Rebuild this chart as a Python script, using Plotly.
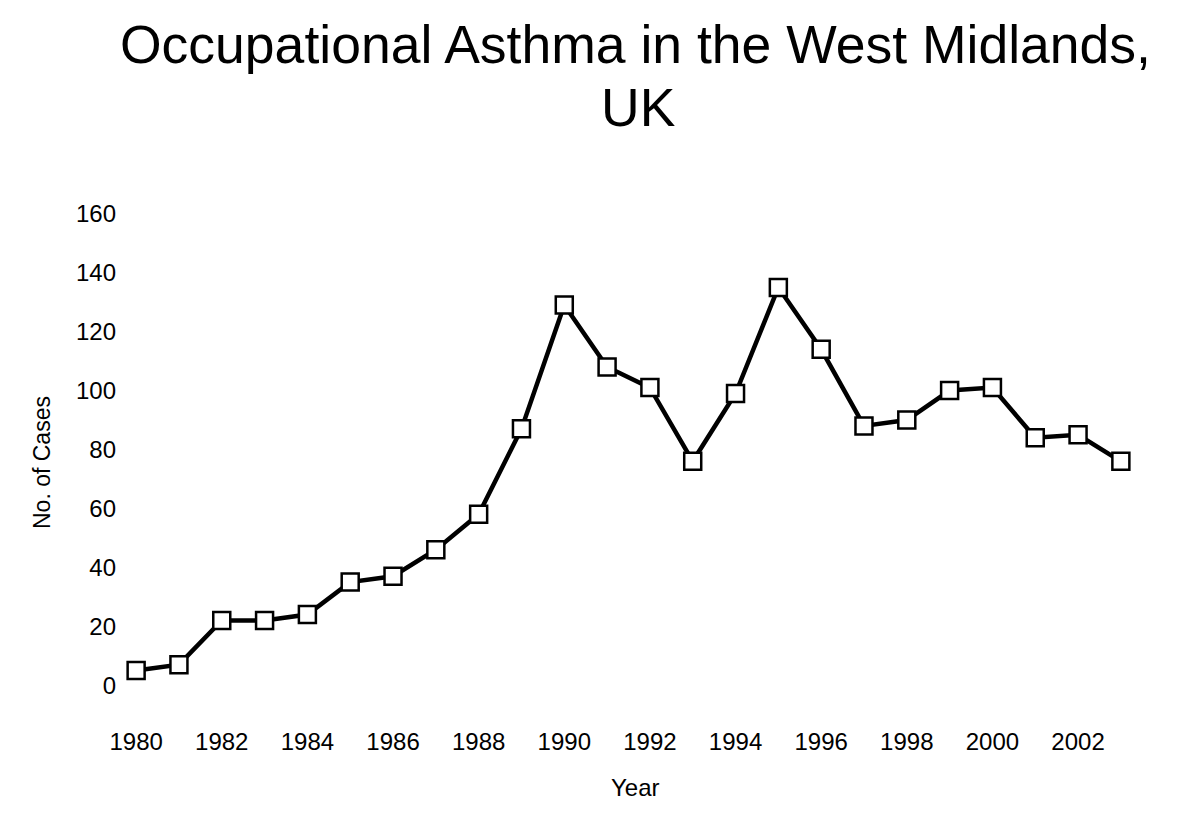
import plotly.graph_objects as go

years = list(range(1980, 2004))
cases = [5, 7, 22, 22, 24, 35, 37, 46, 58, 87, 129, 108, 101, 76, 99, 135, 114, 88, 90, 100, 101, 84, 85, 76]
x_ticks = list(range(1980, 2003, 2))
y_ticks = list(range(0, 161, 20))

title_lines = ["Occupational Asthma in the West Midlands,", "UK"]

regular = "Liberation Sans, Arial, sans-serif"

fig = go.Figure()
fig.add_trace(go.Scatter(
    x=years, y=cases, mode="lines+markers",
    line=dict(color="black", width=4.5),
    marker=dict(symbol="square", size=17, color="white",
                line=dict(color="black", width=2.5)),
    showlegend=False,
))

annotations = [
    dict(text=title_lines[0], x=0.5064, y=1.309, xref="paper", yref="paper",
         xanchor="center", yanchor="middle", showarrow=False,
         font=dict(family=regular, size=53.5, color="black")),
    dict(text=title_lines[1], x=0.5103, y=1.182, xref="paper", yref="paper",
         xanchor="center", yanchor="middle", showarrow=False,
         font=dict(family=regular, size=53.5, color="black")),
    dict(text="Year", x=0.5064, y=-0.1737, xref="paper", yref="paper",
         xanchor="center", yanchor="middle", showarrow=False,
         font=dict(family=regular, size=24, color="black")),
    dict(text="No. of Cases", x=-0.0756, y=0.475, xref="paper", yref="paper",
         xanchor="center", yanchor="middle", showarrow=False, textangle=-90,
         font=dict(family=regular, size=23, color="black")),
]

fig.update_layout(
    width=1200, height=823,
    paper_bgcolor="white", plot_bgcolor="white",
    margin=dict(l=111, r=70, t=191, b=131, autoexpand=False),
    annotations=annotations,
    xaxis=dict(
        range=[1979.6, 2003.4], tickvals=x_ticks, ticktext=[str(v) for v in x_ticks],
        showgrid=False, zeroline=False, showline=False, ticks="",
        tickfont=dict(family=regular, size=24, color="black"),
        ticklabelstandoff=25, automargin=False,
    ),
    yaxis=dict(
        range=[-5, 165], tickvals=y_ticks, ticktext=[str(v) for v in y_ticks],
        showgrid=False, zeroline=False, showline=False, ticks="",
        tickfont=dict(family=regular, size=24, color="black"),
        ticklabelstandoff=2, automargin=False,
    ),
)

fig.write_html("out.html")
